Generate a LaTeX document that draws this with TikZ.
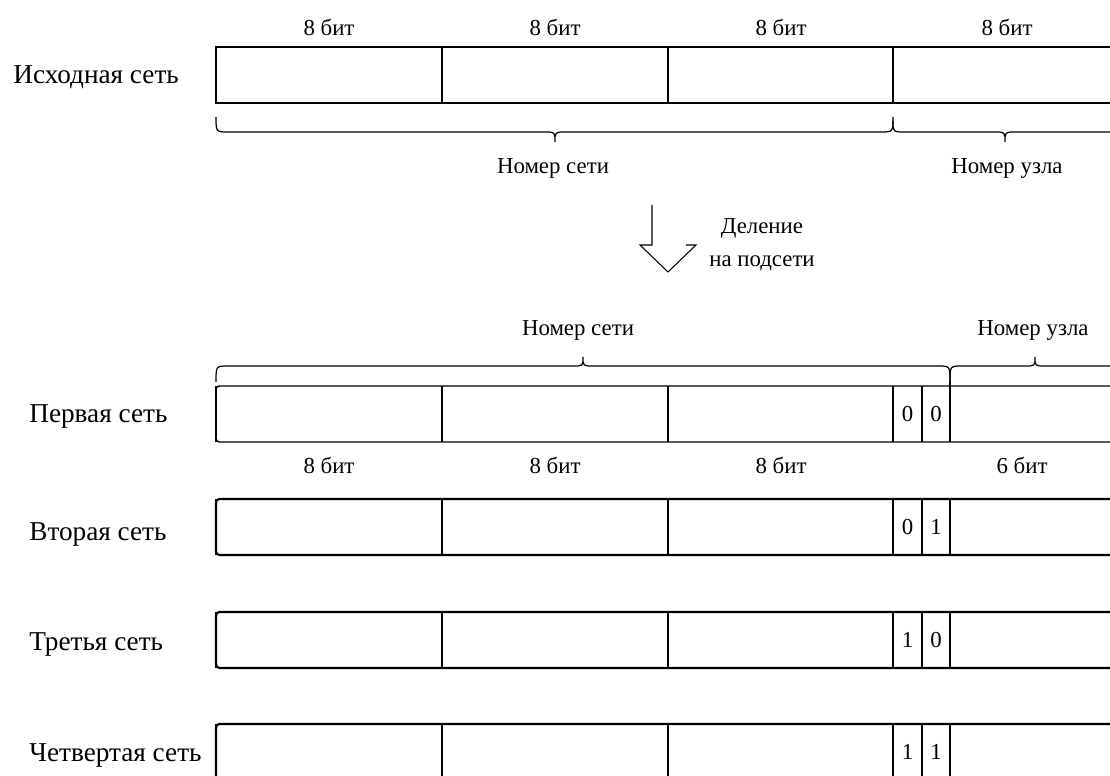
\documentclass[tikz,border=0pt]{standalone}
\usepackage{fontspec}
\setmainfont{Liberation Serif}
\usetikzlibrary{positioning}

% brace: left x, tip x, right x, end y, line y, tip y
\newcommand{\bitbrace}[6]{%
  \draw[brace line] (#1,#4) .. controls (#1,#5) .. ({#1+12},#5) -- ({#2-10},#5)
    .. controls (#2,#5) .. (#2,#6) .. controls (#2,#5) .. ({#2+10},#5)
    -- ({#3-12},#5) .. controls (#3,#5) .. (#3,#4);}

\begin{document}
\begin{tikzpicture}[x=0.02cm,y=-0.02cm,
  lbl/.style={font=\fontsize{13}{18.7}\selectfont,inner sep=1pt},
  netlbl/.style={font=\fontsize{15.5}{18}\selectfont,anchor=base west,inner sep=0pt},
  frame/.style={draw=black},
  divider/.style={draw=black,line width=0.6pt},
  brace line/.style={draw=black,line width=0.7pt}]
  \clip (0,0) rectangle (1110,776);
  % source network
  \node[netlbl] (src) at (13,84) {Исходная сеть};
  \draw[frame,line width=0.8pt] (216,47) rectangle (1180,103);
  \draw[line width=1.4pt] (216,47) -- (216,103);
  \foreach \x in {442,668,893} \draw[divider] (\x,47) -- (\x,103);
  \foreach \x/\n in {329/a,555/b,781/c,1007/d} \node[lbl] (top\n) at (\x,27) {8 бит};
  \bitbrace{216}{555}{893}{117}{132}{142}
  \bitbrace{893}{1005}{1180}{121}{132}{142}
  \node[lbl] (netA) at (553,168) {Номер сети};
  \node[lbl] (hostA) at (1007,168) {Номер узла};
  % subnetting arrow
  \draw[divider] (652,205) -- (652,245) -- (640,245) -- (668,272) -- (696,245) -- (686,245);
  \node[lbl,align=center] (split) at (762,244.5) {Деление\\на подсети};
  % subnets
  \bitbrace{216}{583}{950}{382}{366}{357}
  \bitbrace{950}{1035}{1180}{382}{366}{357}
  \node[lbl] (netB) at (578,330) {Номер сети};
  \node[lbl] (hostB) at (1033,330) {Номер узла};
  \foreach \row/\ytop/\dy/\ba/\bb/\lw/\name in {1/386/37/0/0/0.8pt/Первая сеть,
      2/499/42/0/1/1.2pt/Вторая сеть, 3/612/39/1/0/1.2pt/Третья сеть,
      4/724/38/1/1/1.2pt/Четвертая сеть}{
    \node[netlbl] (net\row) at (29,\ytop+\dy) {\name};
    \draw[frame,line width=\lw,rounded corners=2] (216,\ytop) rectangle (1180,\ytop+56);
    \draw[line width=1.4pt] (216,\ytop) -- (216,\ytop+56);
    \foreach \x in {442,668,893,922} \draw[divider] (\x,\ytop) -- (\x,\ytop+56);
    \draw[line width=1.2pt] (950,\ytop) -- (950,\ytop+56);
    \node[lbl] (bit\row a) at (907.5,\ytop+28) {\ba};
    \node[lbl] (bit\row b) at (936,\ytop+28) {\bb};
  }
  \draw[line width=1.2pt] (950,382) -- (950,386);
  \foreach \x/\n/\t in {329/a/8,555/b/8,781/c/8,1022/d/6}
    \node[lbl] (len\n) at (\x,465) {\t{} бит};
\end{tikzpicture}
\end{document}
